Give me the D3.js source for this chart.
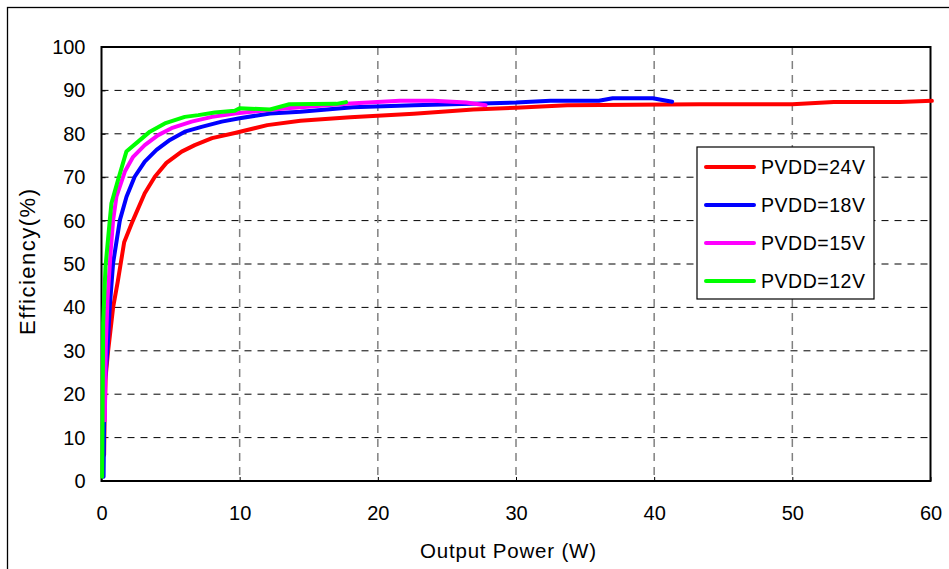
<!DOCTYPE html>
<html>
<head>
<meta charset="utf-8">
<script src="https://cdn.jsdelivr.net/npm/d3@7"></script>
<style>
  body { margin: 0; background: #fff; }
  svg { display: block; font-family: "Liberation Sans", Arial, sans-serif; }
</style>
</head>
<body>
<div id="chart"></div>
<script>
// data (output power W, efficiency %)
var seriesNames = ['PVDD=24V', 'PVDD=18V', 'PVDD=15V', 'PVDD=12V'];
var seriesColors = ['#ff0000', '#0000ff', '#ff00ff', '#00ff00'];

var p24 = [0.19, 0.22, 0.26, 0.3, 0.48, 0.84, 1.18, 1.64, 2.27, 3.13, 3.86, 4.7, 5.8, 6.75, 8.0, 9.65, 12.0, 14.4, 18.0, 22.6, 26.9, 30.0, 33.7, 43.3, 50.0, 53.0, 57.8, 60.1];
var e24 = [6, 14, 19.4, 24, 30, 40, 46, 55, 60, 66.3, 70.1, 73.3, 75.9, 77.4, 79, 80.2, 82.0, 83.0, 83.8, 84.6, 85.6, 86.0, 86.6, 86.8, 86.8, 87.3, 87.3, 87.6];

var p18 = [0.15, 0.22, 0.43, 0.6, 0.84, 1.33, 1.81, 2.4, 3.13, 3.98, 4.95, 6.03, 7.24, 8.7, 10.0, 12.2, 14.4, 18.2, 22.6, 30.0, 32.5, 36.0, 37.0, 39.9, 41.3];
var e18 = [1, 21.7, 30.2, 40.2, 50.2, 60.1, 65.5, 70.1, 73.6, 76.3, 78.6, 80.5, 81.6, 82.8, 83.6, 84.7, 85.1, 86.1, 86.6, 87.2, 87.6, 87.6, 88.2, 88.2, 87.4];

var p15 = [0.24, 0.31, 0.43, 0.67, 0.84, 1.08, 1.69, 2.29, 3.13, 4.1, 5.07, 6.52, 8.0, 9.65, 13.4, 14.4, 18.0, 21.6, 24.0, 26.4, 27.8];
var e15 = [14, 31, 41.7, 53.2, 60.1, 65.5, 71.3, 74.7, 77.4, 79.7, 81.3, 82.8, 83.9, 84.7, 85.9, 86.1, 87.0, 87.6, 87.6, 87.2, 86.6];

var p12 = [0.05, 0.12, 0.29, 0.6, 0.72, 1.2, 1.8, 2.65, 3.5, 4.58, 6.03, 7.0, 8.2, 9.65, 10.0, 12.2, 13.6, 17.0, 17.7];
var e12 = [1, 36.4, 49.4, 60.1, 64, 69.4, 75.9, 78.2, 80.5, 82.4, 83.9, 84.3, 84.9, 85.3, 85.9, 85.6, 86.8, 86.9, 87.3];

var xTicks = [0, 10, 20, 30, 40, 50, 60];
var yTicks = [0, 10, 20, 30, 40, 50, 60, 70, 80, 90, 100];

var powers = [p24, p18, p15, p12];
var effs = [e24, e18, e15, e12];

var margin = { left: 101.5, top: 47, right: 949 - 930.5, bottom: 569 - 481 };
var width = 949, height = 569;
var plotW = width - margin.left - margin.right;
var plotH = height - margin.top - margin.bottom;

var svg = d3.select('#chart')
    .append('svg')
    .attr('width', width)
    .attr('height', height);

// outer frame
svg.append('rect')
    .attr('x', 7.5).attr('y', 7.5)
    .attr('width', 960).attr('height', 600)
    .attr('fill', 'none')
    .attr('stroke', '#000')
    .attr('stroke-width', 1.3);

var g = svg.append('g')
    .attr('transform', 'translate(' + margin.left + ',' + margin.top + ')');

var xScale = d3.scaleLinear().domain([0, 60]).range([0, plotW]);
var yScale = d3.scaleLinear().domain([0, 100]).range([plotH, 0]);

// horizontal grid
g.append('g')
    .selectAll('line')
    .data(yTicks.filter(d => d > 0 && d < 100))
    .enter()
    .append('line')
    .attr('x1', 0).attr('x2', plotW)
    .attr('y1', d => yScale(d)).attr('y2', d => yScale(d))
    .attr('stroke', '#000')
    .attr('stroke-width', 1)
    .attr('stroke-dasharray', '7,6');

// vertical grid
g.append('g')
    .selectAll('line')
    .data(xTicks.filter(d => d > 0 && d < 60))
    .enter()
    .append('line')
    .attr('x1', d => xScale(d)).attr('x2', d => xScale(d))
    .attr('y1', 0).attr('y2', plotH)
    .attr('stroke', '#808080')
    .attr('stroke-width', 1.5)
    .attr('stroke-dasharray', '8,6');

// axes
var xAxis = g.append('g')
    .attr('transform', 'translate(0,' + plotH + ')')
    .call(d3.axisBottom(xScale).tickValues(xTicks).tickSizeInner(-4).tickSizeOuter(0).tickPadding(25));
var yAxis = g.append('g')
    .call(d3.axisLeft(yScale).tickValues(yTicks).tickSizeInner(-4).tickSizeOuter(0).tickPadding(16));

[xAxis, yAxis].forEach(a => {
    a.select('.domain').remove();
    a.selectAll('line').attr('stroke', '#000');
    a.selectAll('text')
        .attr('font-family', '"Liberation Sans", Arial, sans-serif')
        .attr('font-size', 20)
        .attr('fill', '#000');
});
xAxis.selectAll('text').attr('dy', '0.71em');

// plot frame
g.append('rect')
    .attr('width', plotW).attr('height', plotH)
    .attr('fill', 'none')
    .attr('stroke', '#000')
    .attr('stroke-width', 2);

// curves
var line = d3.line()
    .x(d => xScale(d[0]))
    .y(d => yScale(d[1]));

powers.forEach(function (p, i) {
    var pts = p.map((v, j) => [v, effs[i][j]]);
    g.append('path')
        .datum(pts)
        .attr('d', line)
        .attr('fill', 'none')
        .attr('stroke', seriesColors[i])
        .attr('stroke-width', 4)
        .attr('stroke-linejoin', 'round')
        .attr('stroke-linecap', 'round');
});

// axis titles
svg.append('text')
    .attr('x', 508).attr('y', 558)
    .attr('text-anchor', 'middle')
    .attr('font-size', 20.5)
    .attr('textLength', 176)
    .attr('lengthAdjust', 'spacing')
    .text('Output Power (W)');

svg.append('text')
    .attr('transform', 'translate(35,262) rotate(-90)')
    .attr('text-anchor', 'middle')
    .attr('font-size', 22)
    .attr('textLength', 146)
    .attr('lengthAdjust', 'spacing')
    .text('Efficiency(%)');

// legend
var legend = svg.append('g').attr('transform', 'translate(697,147)');
legend.append('rect')
    .attr('width', 177).attr('height', 152)
    .attr('fill', '#fff')
    .attr('stroke', '#000')
    .attr('stroke-width', 1.2);

var items = legend.selectAll('.item')
    .data(seriesNames)
    .enter()
    .append('g')
    .attr('class', 'item')
    .attr('transform', (d, i) => 'translate(0,' + (20 + i * 38) + ')');

items.append('line')
    .attr('x1', 9).attr('x2', 57)
    .attr('stroke', (d, i) => seriesColors[i])
    .attr('stroke-width', 4)
    .attr('stroke-linecap', 'round');

items.append('text')
    .attr('x', 64)
    .attr('dy', '0.36em')
    .attr('font-size', 19.5)
    .attr('textLength', 104)
    .attr('lengthAdjust', 'spacing')
    .text(d => d);
</script>
</body>
</html>
